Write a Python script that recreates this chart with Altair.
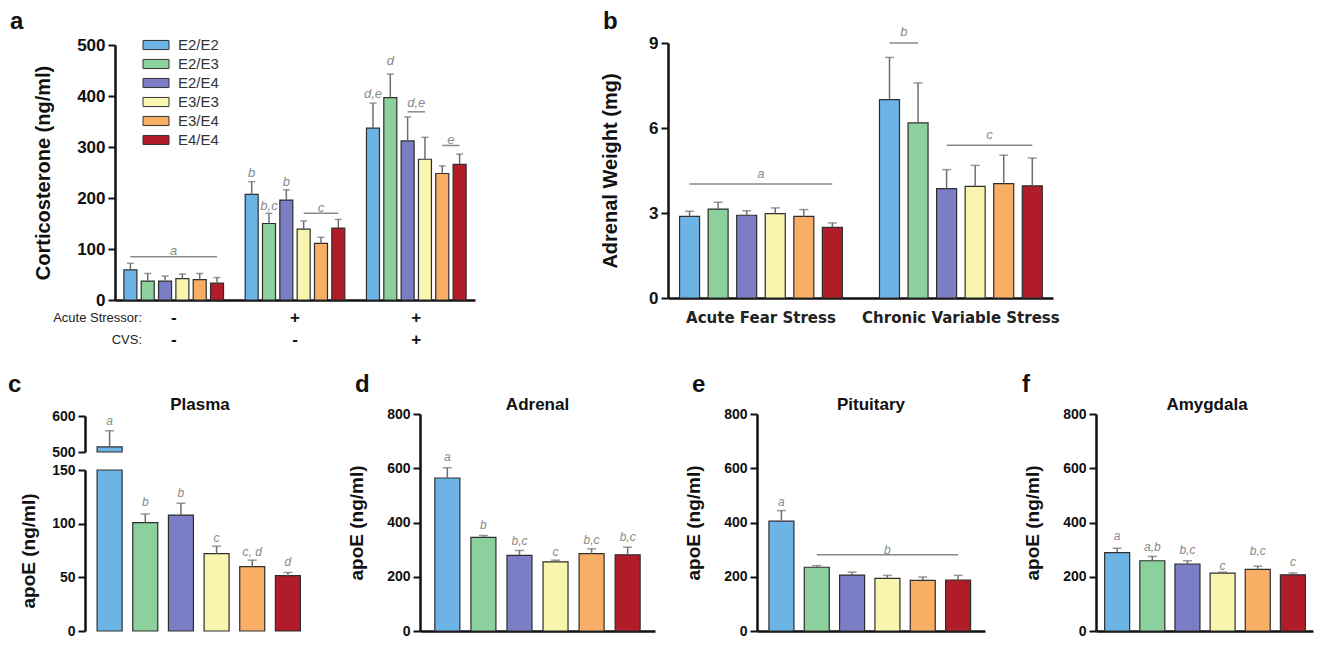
import altair as alt
import pandas as pd

# ---------------- data ----------------
genotypes = ["E2/E2", "E2/E3", "E2/E4", "E3/E3", "E3/E4", "E4/E4"]
colors = ["#6DB4E6", "#8BD09D", "#7B7DC5", "#F7F5AE", "#F9AE66", "#B01C27"]

# panel a: corticosterone (ng/ml)
cort_groups = ["No stress", "Acute", "Acute + CVS"]
cort_mean_none = [59, 37, 37, 42, 40, 33]
cort_sem_none = [13, 15, 10, 9, 12, 11]
cort_mean_acute = [207, 150, 196, 139, 111, 141]
cort_sem_acute = [25, 20, 20, 16, 12, 17]
cort_mean_cvs = [337, 397, 312, 276, 248, 266]
cort_sem_cvs = [49, 46, 47, 43, 15, 20]
acute_signs = ["-", "+", "+"]
cvs_signs = ["-", "-", "+"]
cort_bar_labels = [(1, "E2/E2", "b", 250), (1, "E2/E3", "b,c", 184), (1, "E2/E4", "b", 232),
                   (2, "E2/E2", "d,e", 404), (2, "E2/E3", "d", 468)]
cort_line_labels = [(0, "E2/E2", "E4/E4", "a", 85, 97), (1, "E3/E3", "E4/E4", "c", 170, 181),
                    (2, "E2/E4", "E3/E3", "d,e", 369, 386), (2, "E3/E4", "E4/E4", "e", 303, 314)]

# panel b: adrenal weight (mg)
adr_groups = ["Acute Fear Stress", "Chronic Variable Stress"]
adr_mean_acute = [2.88, 3.14, 2.92, 2.98, 2.88, 2.49]
adr_sem_acute = [0.18, 0.24, 0.16, 0.20, 0.24, 0.16]
adr_mean_cvs = [7.0, 6.18, 3.86, 3.94, 4.04, 3.96]
adr_sem_cvs = [1.49, 1.41, 0.67, 0.74, 1.0, 0.98]
adr_line_labels = [(0, "E2/E2", "E4/E4", "a", 4.02, 4.36), (1, "E2/E2", "E2/E3", "b", 9.0, 9.38),
                   (1, "E2/E4", "E4/E4", "c", 5.39, 5.74)]

# panels c-f: apoE (ng/ml)
plasma_mean = [514, 101, 108, 72, 60, 51.5]
plasma_sem = [45, 8, 11, 7, 6, 3]
plasma_labels = ["a", "b", "b", "c", "c, d", "d"]
plasma_label_y = [586, 120, 129, 87, 74, 64]

adrenal_mean = [564, 345, 279, 255, 285, 281]
adrenal_sem = [38, 7, 18, 6, 18, 28]
adrenal_labels = ["a", "b", "b,c", "c", "b,c", "b,c"]
adrenal_label_y = [642, 390, 331, 291, 337, 345]

pit_mean = [405, 235, 206, 194, 187, 188]
pit_sem = [39, 6, 11, 11, 12, 17]
pit_labels = ["a"]
pit_label_y = [474]
pit_line = ("E2/E3", "E4/E4", "b", 281, 299)

amy_mean = [289, 259, 247, 213, 227, 207]
amy_sem = [16, 16, 12, 4, 12, 7]
amy_labels = ["a", "a,b", "b,c", "c", "b,c", "c"]
amy_label_y = [349, 310, 298, 241, 295, 253]

# ---------------- layout (pixel frame of the single canvas) ----------------
W, H = 1307, 632
FONT = "Liberation Sans"
BLACK = "#111111"
ANN = "#8a8a8a"
ERRC = "#6e6e6e"
NG = len(genotypes) + 1  # slots per group incl. spacer


def grouped_frame(groups, means, sems):
    rows = []
    for gi, g in enumerate(groups):
        for k, geno in enumerate(genotypes):
            rows.append({"group": g, "genotype": geno, "slot": gi * NG + k,
                         "mean": means[gi][k], "top": means[gi][k] + sems[gi][k]})
    return pd.DataFrame(rows)


def simple_frame(means, sems):
    return pd.DataFrame({"genotype": genotypes, "slot": list(range(len(genotypes))),
                         "mean": means, "top": [m + s for m, s in zip(means, sems)]})


def y_axis(x0, values, title, label_size, title_size, title_pad):
    return alt.Axis(orient="left", offset=-x0, values=values, title=title, grid=False, format="d",
                    domainColor=BLACK, domainWidth=2.5, tickColor=BLACK, tickWidth=2, tickSize=7,
                    labelFont=FONT, labelFontSize=label_size, labelFontWeight="bold", labelColor=BLACK,
                    labelPadding=3, titleFont=FONT, titleFontSize=title_size, titleFontWeight="bold",
                    titleColor=BLACK, titlePadding=title_pad)


def x_axis(y0):
    return alt.Axis(orient="bottom", offset=y0 - H, labels=False, ticks=False, title=None, grid=False,
                    domainColor=BLACK, domainWidth=2.5)


def bar_layers(df, xs, ys, yaxis, xaxis, bw, cap, legend=None, bar_filter=None, err_filter=None):
    base = alt.Chart(df)
    bars = base.mark_bar(width=bw, stroke="#2e2e2e", strokeWidth=1.2).encode(
        x=alt.X("slot:Q", scale=xs, axis=xaxis),
        y=alt.Y("mean:Q", scale=ys, axis=yaxis),
        y2=alt.datum(0),
        color=alt.Color("genotype:N", scale=alt.Scale(domain=genotypes, range=colors), legend=legend),
    )
    err = base.mark_rule(color=ERRC, strokeWidth=1.5).encode(x="slot:Q", y="mean:Q", y2="top:Q")
    caps = base.mark_tick(color=ERRC, thickness=1.5, size=cap, orient="horizontal").encode(
        x="slot:Q", y="top:Q")
    if bar_filter:
        bars = bars.transform_filter(bar_filter)
    if err_filter:
        err = err.transform_filter(err_filter)
        caps = caps.transform_filter(err_filter)
    return [bars, err, caps]


def fixed_text(t, x, y, size, weight="normal", align="center", font=FONT, color=BLACK,
               baseline="middle"):
    return alt.Chart(pd.DataFrame({"t": [t]})).mark_text(
        font=font, fontSize=size, fontWeight=weight, color=color, align=align,
        baseline=baseline).encode(text="t:N", x=alt.value(x), y=alt.value(y))


def ann_text(df, size=13, filt=None):
    ch = alt.Chart(df).mark_text(font=FONT, fontSize=size, fontStyle="italic", color=ANN,
                                 baseline="middle").encode(x="x:Q", y="y:Q", text="t:N")
    return ch.transform_filter(filt) if filt else ch


def ann_lines(df):
    return alt.Chart(df).mark_rule(color=ANN, strokeWidth=1.5).encode(x="x1:Q", x2="x2:Q", y="y:Q")


def line_frames(lines):
    ldf = pd.DataFrame([{"x1": g * NG + genotypes.index(a), "x2": g * NG + genotypes.index(b), "y": ly}
                        for g, a, b, t, ly, ty in lines])
    tdf = pd.DataFrame([{"x": g * NG + (genotypes.index(a) + genotypes.index(b)) / 2, "y": ty, "t": t}
                        for g, a, b, t, ly, ty in lines])
    return ldf, tdf


# ---------------- panel a ----------------
AX0, AX1, AYB, AYT = 107, 467, 292, 37
a_xs = alt.Scale(domain=[-0.6, 19.6], range=[AX0, AX1], nice=False, zero=False)
a_ys = alt.Scale(domain=[0, 500], range=[AYB, AYT], nice=False)
cort_df = grouped_frame(cort_groups, [cort_mean_none, cort_mean_acute, cort_mean_cvs],
                        [cort_sem_none, cort_sem_acute, cort_sem_cvs])
a_legend = alt.Legend(orient="none", legendX=AX0 + 33.5, legendY=AYT - 7.5, title=None, labelFont=FONT,
                      labelFontSize=15, labelColor="#333333", labelOffset=14.5, rowPadding=3,
                      symbolType="M-2,-0.7 H2 V0.7 H-2 Z", symbolSize=169,
                      symbolStrokeColor="#333333", symbolStrokeWidth=1, padding=0)
a_layers = bar_layers(cort_df, a_xs, a_ys,
                      y_axis(AX0, [0, 100, 200, 300, 400, 500], "Corticosterone (ng/ml)", 17, 20, 23),
                      x_axis(AYB), 13, 7, legend=a_legend)
a_bar_txt = pd.DataFrame([{"x": g * NG + genotypes.index(geno), "y": y, "t": t}
                          for g, geno, t, y in cort_bar_labels])
a_ldf, a_tdf = line_frames(cort_line_labels)
sign_df = pd.DataFrame({"x": [gi * NG + 2.5 for gi in range(len(cort_groups))],
                        "acute": acute_signs, "cvs": cvs_signs})
sign_acute = alt.Chart(sign_df).mark_text(font=FONT, fontSize=17, fontWeight="bold", color=BLACK).encode(
    x="x:Q", y=alt.value(AYB + 18), text="acute:N")
sign_cvs = alt.Chart(sign_df).mark_text(font=FONT, fontSize=17, fontWeight="bold", color=BLACK).encode(
    x="x:Q", y=alt.value(AYB + 40), text="cvs:N")
panel_a = alt.layer(*a_layers, ann_lines(a_ldf), ann_text(a_tdf), ann_text(a_bar_txt), sign_acute, sign_cvs)

# ---------------- panel b ----------------
BX0, BX1, BYB, BYT = 660, 1045, 290, 35
b_xs = alt.Scale(domain=[-0.58, 12.55], range=[BX0, BX1], nice=False, zero=False)
b_ys = alt.Scale(domain=[0, 9], range=[BYB, BYT], nice=False)
adr_df = grouped_frame(adr_groups, [adr_mean_acute, adr_mean_cvs], [adr_sem_acute, adr_sem_cvs])
b_layers = bar_layers(adr_df, b_xs, b_ys, y_axis(BX0, [0, 3, 6, 9], "Adrenal Weight  (mg)", 17, 20, 28),
                      x_axis(BYB), 20, 9)
b_ldf, b_tdf = line_frames(adr_line_labels)
grp_df = pd.DataFrame({"x": [gi * NG + 2.5 for gi in range(len(adr_groups))], "t": adr_groups})
grp_txt = alt.Chart(grp_df).mark_text(font="DejaVu Sans", fontSize=15, fontWeight="bold",
                                      color="#222222", baseline="middle").encode(
    x="x:Q", y=alt.value(BYB + 20), text="t:N")
panel_b = alt.layer(*b_layers, ann_lines(b_ldf), ann_text(b_tdf), grp_txt)

# ---------------- bottom panels ----------------
YB, YT = 623, 406


def label_frame(labels, ys):
    return pd.DataFrame({"x": list(range(len(labels))), "y": ys, "t": labels})


# panel c (broken axis: two y scales stacked in one plot)
CX0, CX1 = 77, 307
c_xs = alt.Scale(domain=[-0.55, 5.62], range=[CX0, CX1], nice=False, zero=False)
low_scale = alt.Scale(domain=[0, 150], range=[YB, 462], clamp=True, nice=False, zero=False)
up_scale = alt.Scale(domain=[500, 600], range=[444, 408], clamp=True, nice=False, zero=False)
c_df = simple_frame(plasma_mean, plasma_sem)
c_lab = label_frame(plasma_labels, plasma_label_y)
c_low = alt.layer(
    *bar_layers(c_df, c_xs, low_scale, y_axis(CX0, [0, 50, 100, 150], "apoE (ng/ml)", 14, 19, 13),
                x_axis(YB), 25, 9, err_filter="datum.top <= 150"),
    ann_text(c_lab, 12, filt="datum.y <= 150"))
c_up = alt.layer(
    *bar_layers(c_df, c_xs, up_scale, y_axis(CX0, [500, 600], None, 14, 19, 8), None,
                25, 9, bar_filter="datum.mean >= 500", err_filter="datum.mean >= 500"),
    ann_text(c_lab, 12, filt="datum.y >= 500"))
panel_c = alt.layer(c_low, c_up).resolve_scale(y="independent")


def apo_panel(means, sems, labels, label_y, x0, x1, xdom, line=None):
    df = simple_frame(means, sems)
    xs = alt.Scale(domain=xdom, range=[x0, x1], nice=False, zero=False)
    ys = alt.Scale(domain=[0, 800], range=[YB, YT], nice=False)
    layers = bar_layers(df, xs, ys, y_axis(x0, [0, 200, 400, 600, 800], "apoE (ng/ml)", 14, 19, 20),
                        x_axis(YB), 25, 9)
    layers.append(ann_text(label_frame(labels, label_y), 12))
    if line is not None:
        a, b, t, ly, ty = line
        layers.append(ann_lines(pd.DataFrame({"x1": [genotypes.index(a)], "x2": [genotypes.index(b)],
                                              "y": [ly]})))
        layers.append(ann_text(pd.DataFrame({"x": [(genotypes.index(a) + genotypes.index(b)) / 2],
                                             "y": [ty], "t": [t]}), 12))
    return alt.layer(*layers)


panel_d = apo_panel(adrenal_mean, adrenal_sem, adrenal_labels, adrenal_label_y, 412, 647, [-0.62, 5.62])
panel_e = apo_panel(pit_mean, pit_sem, pit_labels, pit_label_y, 749, 977, [-0.55, 5.62], line=pit_line)
panel_f = apo_panel(amy_mean, amy_sem, amy_labels, amy_label_y, 1088, 1305, [-0.46, 5.43])

# ---------------- decorations (letters, panel names, row labels) ----------------
decor = [
    fixed_text("a", 2, 21, 24, "bold", "left", baseline="alphabetic"),
    fixed_text("b", 595, 21, 24, "bold", "left", baseline="alphabetic"),
    fixed_text("c", 0, 384, 24, "bold", "left", baseline="alphabetic"),
    fixed_text("d", 347, 384, 24, "bold", "left", baseline="alphabetic"),
    fixed_text("e", 684, 384, 24, "bold", "left", baseline="alphabetic"),
    fixed_text("f", 1014, 384, 24, "bold", "left", baseline="alphabetic"),
    fixed_text("Plasma", (CX0 + CX1) / 2, 397, 17, "bold"),
    fixed_text("Adrenal", (412 + 647) / 2, 397, 17, "bold"),
    fixed_text("Pituitary", (749 + 977) / 2, 397, 17, "bold"),
    fixed_text("Amygdala", (1088 + 1310) / 2, 397, 17, "bold"),
    fixed_text("Acute Stressor:", AX0 + 27, AYB + 18, 13, align="right", color="#222222"),
    fixed_text("CVS:", AX0 + 27, AYB + 40, 13, align="right", color="#222222"),
]

chart = alt.layer(panel_a, panel_b, panel_c, panel_d, panel_e, panel_f, *decor).resolve_scale(
    x="independent", y="independent", color="independent"
).properties(
    width=W, height=H, padding=0, autosize=alt.AutoSizeParams(type="none"),
    view=alt.ViewBackground(stroke="transparent", strokeWidth=0),
).configure_view(stroke="transparent", strokeWidth=0).configure(background="white")

chart.save("out.html", embed_options={"renderer": "svg", "actions": False})
